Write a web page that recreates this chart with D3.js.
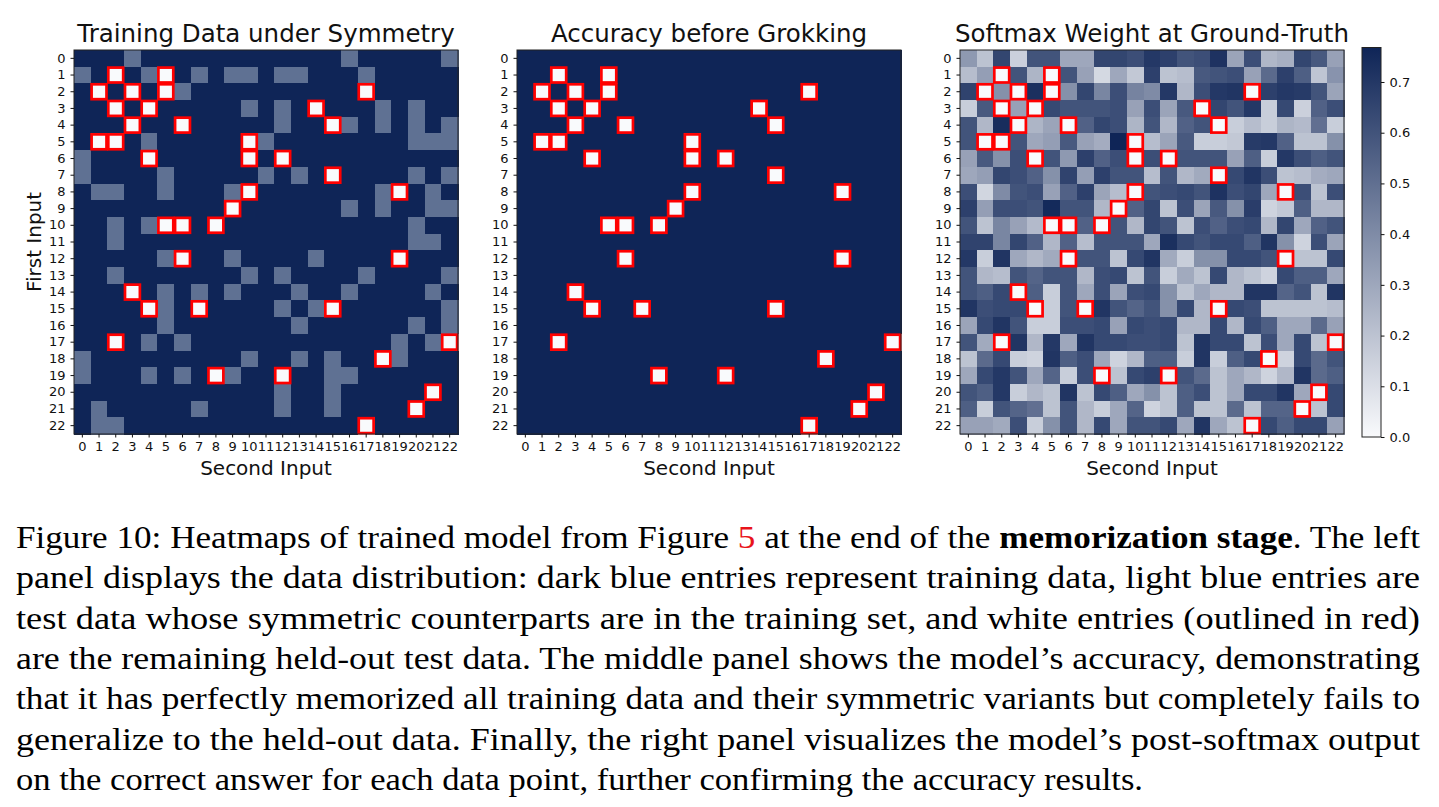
<!DOCTYPE html>
<html>
<head>
<meta charset="utf-8">
<script src="https://cdn.jsdelivr.net/npm/d3@7"></script>
<style>
  body { margin: 0; background: #fff; }
  svg text { font-family: "DejaVu Sans", sans-serif; }
</style>
</head>
<body>
<svg id="fig" width="1439" height="807"></svg>
<script>
// ---- data ----
const inputs = [0,1,2,3,4,5,6,7,8,9,10,11,12,13,14,15,16,17,18,19,20,21,22];

// held-out test pairs [first input, second input] (white, outlined in red)
const heldOut = [
  [1,2],[1,5],[2,1],[2,3],[2,5],[2,17],[3,2],[3,4],[3,14],[4,3],[4,6],[4,15],
  [5,1],[5,2],[5,10],[6,4],[6,10],[6,12],[7,15],[8,10],[8,19],[9,9],
  [10,5],[10,6],[10,8],[12,6],[12,19],[14,3],[15,4],[15,7],[15,15],
  [17,2],[17,22],[18,18],[19,8],[19,12],[20,21],[21,20],[22,17]
];

// test pairs whose symmetric counterpart is in training (light blue), by first input
const symmetricTest = [
  [3,16,22], [0,4,7,9,10,12,13,17], [6], [10,12,18,20], [12,16,18,20,22],
  [4,11,20,21,22], [0], [0,5,11,13,20,22], [1,2,5,9,18,21], [16,18,21,22],
  [2,4,20], [2,20,21], [5,9,14], [2,10,12,17,22], [5,7,9,13,16,21],
  [5,12,14,22], [5,13,20,22], [4,6,19,21], [0,10,13,15,19], [0,4,6,9,15,16],
  [12,15], [1,7,12,15], [1,2]
];

// post-softmax weight on the ground-truth answer, rows = first input
const softmaxWeight = [
  [0.35,0.20,0.65,0.15,0.60,0.60,0.30,0.30,0.65,0.65,0.62,0.70,0.67,0.60,0.62,0.72,0.31,0.62,0.24,0.27,0.65,0.58,0.32],
  [0.22,0.33,0,0.60,0.25,0,0.60,0.32,0.12,0.30,0.18,0.67,0.20,0.22,0.58,0.60,0.62,0.32,0.52,0.67,0.56,0.19,0.37],
  [0.66,0,0.38,0,0.73,0,0.38,0.65,0.42,0.62,0.43,0.40,0.70,0.24,0.62,0.70,0.71,0,0.67,0.70,0.69,0.60,0.31],
  [0.16,0.58,0,0.32,0,0.64,0.60,0.60,0.60,0.62,0.32,0.62,0.31,0.58,0,0.65,0.60,0.70,0.16,0.64,0.15,0.55,0.62],
  [0.60,0.24,0.74,0,0.25,0.31,0,0.55,0.65,0.62,0.25,0.60,0.24,0.55,0.60,0,0.16,0.22,0.16,0.25,0.23,0.50,0.16],
  [0.60,0,0,0.60,0.30,0.33,0.58,0.32,0.28,0.768,0,0.22,0.31,0.58,0.16,0.16,0.18,0.69,0.70,0.55,0.20,0.20,0.38],
  [0.32,0.58,0.38,0.62,0,0.60,0.35,0.67,0.55,0.62,0,0.62,0,0.60,0.60,0.60,0.32,0.56,0.16,0.70,0.62,0.56,0.60],
  [0.30,0.33,0.65,0.62,0.55,0.38,0.66,0.33,0.67,0.60,0.60,0.22,0.60,0.24,0.29,0,0.64,0.71,0.62,0.20,0.22,0.28,0.30],
  [0.62,0.13,0.40,0.60,0.62,0.32,0.55,0.67,0.31,0.22,0,0.60,0.62,0.64,0.60,0.72,0.62,0.65,0.30,0,0.62,0.20,0.62],
  [0.67,0.33,0.62,0.62,0.60,0.75,0.60,0.60,0.24,0,0.55,0.65,0.20,0.62,0.31,0.58,0.38,0.68,0.14,0.18,0.56,0.24,0.24],
  [0.60,0.20,0.42,0.32,0.23,0,0,0.55,0,0.60,0.24,0.65,0.60,0.20,0.62,0.55,0.62,0.64,0.24,0.65,0.30,0.55,0.60],
  [0.66,0.66,0.42,0.65,0.55,0.24,0.55,0.22,0.60,0.60,0.60,0.30,0.73,0.64,0.60,0.64,0.64,0.56,0.71,0.38,0.14,0.62,0.31],
  [0.70,0.16,0.71,0.30,0.24,0.29,0,0.60,0.60,0.20,0.64,0.71,0.29,0.16,0.38,0.38,0.64,0.64,0.60,0,0.20,0.20,0.64],
  [0.60,0.24,0.22,0.60,0.54,0.60,0.60,0.24,0.62,0.64,0.20,0.60,0.16,0.29,0.20,0.64,0.24,0.20,0.14,0.64,0.56,0.56,0.30],
  [0.60,0.56,0.64,0,0.56,0.16,0.60,0.30,0.62,0.31,0.62,0.64,0.38,0.20,0.30,0.24,0.24,0.71,0.71,0.54,0.60,0.20,0.71],
  [0.71,0.62,0.64,0.64,0,0.16,0.60,0,0.71,0.60,0.54,0.60,0.38,0.64,0.24,0,0.64,0.62,0.20,0.20,0.20,0.20,0.22],
  [0.31,0.64,0.71,0.60,0.16,0.16,0.62,0.62,0.64,0.32,0.64,0.62,0.64,0.24,0.24,0.64,0.24,0.64,0.56,0.30,0.30,0.52,0.32],
  [0.60,0.29,0,0.71,0.24,0.70,0.30,0.71,0.64,0.64,0.62,0.62,0.64,0.20,0.71,0.64,0.64,0.20,0.62,0.30,0.64,0.20,0],
  [0.20,0.52,0.64,0.16,0.14,0.71,0.56,0.62,0.30,0.14,0.24,0.56,0.56,0.16,0.71,0.16,0.56,0.64,0,0.14,0.64,0.52,0.60],
  [0.30,0.64,0.70,0.60,0.30,0.54,0.16,0.62,0,0.20,0.64,0.67,0,0.60,0.52,0.20,0.30,0.24,0.14,0.24,0.71,0.52,0.56],
  [0.60,0.56,0.70,0.16,0.24,0.20,0.71,0.20,0.64,0.56,0.30,0.38,0.20,0.56,0.62,0.20,0.30,0.64,0.64,0.71,0.30,0,0.64],
  [0.56,0.16,0.60,0.54,0.50,0.20,0.60,0.24,0.16,0.30,0.54,0.14,0.20,0.56,0.20,0.20,0.52,0.20,0.54,0.54,0,0.20,0.64],
  [0.32,0.32,0.29,0.62,0.16,0.38,0.60,0.24,0.64,0.30,0.60,0.60,0.64,0.30,0.71,0.30,0.20,0,0.64,0.56,0.64,0.64,0.32]
];

const colorbarTicks = [0, 0.1, 0.2, 0.3, 0.4, 0.5, 0.6, 0.7];

const captionLines = [
  [["Figure 10: Heatmaps of trained model from Figure ", ""], ["5", "ref"], [" at the end of the ", ""], ["memorization stage", "bold"], [". The left", ""]],
  [["panel displays the data distribution: dark blue entries represent training data, light blue entries are", ""]],
  [["test data whose symmetric counterparts are in the training set, and white entries (outlined in red)", ""]],
  [["are the remaining held-out test data. The middle panel shows the model\u2019s accuracy, demonstrating", ""]],
  [["that it has perfectly memorized all training data and their symmetric variants but completely fails to", ""]],
  [["generalize to the held-out data. Finally, the right panel visualizes the model\u2019s post-softmax output", ""]],
  [["on the correct answer for each data point, further confirming the accuracy results.", ""]]
];

// ---- layout ----
const TOP = 50, SIZE = 384;
const DARK = "#0f2557", LIGHT = "#5f7193", WHITE = "#f9fafc";

const svg = d3.select("#fig");

const isHeld = (r, c) => heldOut.some(d => d[0] === r && d[1] === c);

const softMax = d3.max(softmaxWeight.flat());
const softColor = d3.scaleLinear().domain([0, softMax]).range([WHITE, DARK]);

function buildCells(valueFn) {
  let cells = [];
  inputs.forEach(r => inputs.forEach(c => cells.push({ first: r, second: c, value: valueFn(r, c) })));
  return cells;
}

function drawPanel(cfg) {
  const g = svg.append("g");
  const x = d3.scaleBand().domain(inputs).range([cfg.left, cfg.left + SIZE]);
  const y = d3.scaleBand().domain(inputs).range([TOP, TOP + SIZE]);

  g.selectAll("rect.cell")
    .data(cfg.cells)
    .join("rect")
    .attr("class", "cell")
    .attr("x", d => x(d.second))
    .attr("y", d => y(d.first))
    .attr("width", x.bandwidth() + 0.5)
    .attr("height", y.bandwidth() + 0.5)
    .attr("shape-rendering", "crispEdges")
    .attr("fill", d => cfg.color(d.value));

  // red outlines on held-out pairs
  g.selectAll("rect.held")
    .data(heldOut)
    .join("rect")
    .attr("class", "held")
    .attr("x", d => x(d[1]) + 0.9)
    .attr("y", d => y(d[0]) + 0.9)
    .attr("width", x.bandwidth() - 1.8)
    .attr("height", y.bandwidth() - 1.8)
    .attr("fill", "none")
    .attr("stroke", "#ff0000")
    .attr("stroke-width", 2.7);

  g.append("rect")
    .attr("x", cfg.left).attr("y", TOP)
    .attr("width", SIZE).attr("height", SIZE)
    .attr("fill", "none").attr("stroke", "#222").attr("stroke-width", 1);

  const xAxis = g.append("g")
    .attr("transform", `translate(0,${TOP + SIZE})`)
    .call(d3.axisBottom(x).tickSize(3.5).tickPadding(4));
  const yAxis = g.append("g")
    .attr("transform", `translate(${cfg.left},0)`)
    .call(d3.axisLeft(y).tickSize(3.5).tickPadding(5));

  [xAxis, yAxis].forEach(a => {
    a.attr("font-size", 13).attr("font-family", "DejaVu Sans");
    a.select(".domain").remove();
    a.selectAll("line").attr("stroke", "#111");
    a.selectAll("text").attr("fill", "#111");
  });

  g.append("text")
    .attr("x", cfg.left + SIZE / 2).attr("y", 42)
    .attr("text-anchor", "middle")
    .attr("font-size", 24.5).attr("fill", "#111")
    .text(cfg.title);

  g.append("text")
    .attr("x", cfg.left + SIZE / 2).attr("y", 475)
    .attr("text-anchor", "middle")
    .attr("font-size", 20).attr("fill", "#111")
    .text("Second Input");

  if (cfg.yLabel) {
    g.append("text")
      .attr("transform", `translate(41,${TOP + SIZE / 2}) rotate(-90)`)
      .attr("text-anchor", "middle")
      .attr("font-size", 20).attr("fill", "#111")
      .text(cfg.yLabel);
  }
}

const sym = (r, c) => symmetricTest[r].includes(c);

drawPanel({
  left: 74,
  title: "Training Data under Symmetry",
  yLabel: "First Input",
  cells: buildCells((r, c) => isHeld(r, c) ? "held" : (sym(r, c) ? "sym" : "train")),
  color: d3.scaleOrdinal().domain(["train", "sym", "held"]).range([DARK, LIGHT, WHITE])
});

drawPanel({
  left: 517,
  title: "Accuracy before Grokking",
  cells: buildCells((r, c) => isHeld(r, c) ? 0 : 1),
  color: d3.scaleOrdinal().domain([1, 0]).range([DARK, WHITE])
});

drawPanel({
  left: 960,
  title: "Softmax Weight at Ground-Truth",
  cells: buildCells((r, c) => softmaxWeight[r][c]),
  color: softColor
});

// ---- colorbar ----
const cbX = 1362, cbW = 19, cbTop = 47.5, cbBottom = 437;
const cbScale = d3.scaleLinear().domain([0, softMax]).range([cbBottom, cbTop]);

const grad = svg.append("defs").append("linearGradient")
  .attr("id", "cbGrad").attr("x1", 0).attr("y1", 1).attr("x2", 0).attr("y2", 0);
grad.selectAll("stop")
  .data([0, 0.25, 0.5, 0.75, 1])
  .join("stop")
  .attr("offset", d => d)
  .attr("stop-color", d => softColor(d * softMax));

svg.append("rect")
  .attr("x", cbX).attr("y", cbTop)
  .attr("width", cbW).attr("height", cbBottom - cbTop)
  .attr("fill", "url(#cbGrad)")
  .attr("stroke", "#222").attr("stroke-width", 1);

const cbAxis = svg.append("g")
  .attr("transform", `translate(${cbX + cbW},0)`)
  .call(d3.axisRight(cbScale).tickValues(colorbarTicks).tickFormat(d3.format(".1f")).tickSize(3.5).tickPadding(5));
cbAxis.attr("font-size", 13).attr("font-family", "DejaVu Sans");
cbAxis.select(".domain").remove();
cbAxis.selectAll("line").attr("stroke", "#111");
cbAxis.selectAll("text").attr("fill", "#111");

// ---- caption ----
const capLeft = 16, capWidth = 1404, lastWidth = 1127, capTop = 548, capStep = 40.3;
const caption = svg.append("g")
  .attr("font-size", 31)
  .attr("fill", "#000");

captionLines.forEach((segs, i) => {
  const t = caption.append("text")
    .attr("x", capLeft).attr("y", capTop + i * capStep)
    .attr("textLength", i < captionLines.length - 1 ? capWidth : lastWidth)
    .attr("lengthAdjust", "spacingAndGlyphs")
    .style("font-family", "'Liberation Serif', 'DejaVu Serif', serif");
  segs.forEach(s => {
    const ts = t.append("tspan").text(s[0]);
    if (s[1] === "bold") ts.attr("font-weight", "bold");
    if (s[1] === "ref") ts.attr("fill", "#e8141b");
  });
});
</script>
</body>
</html>
